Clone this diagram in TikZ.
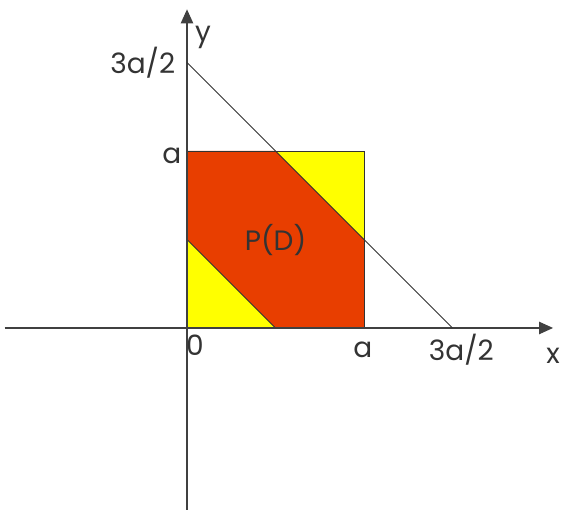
\documentclass[tikz,border=0pt]{standalone}
\usepackage{fontspec}
\setmainfont{Poppins}
\usetikzlibrary{arrows.meta}

\begin{document}
\begin{tikzpicture}[x=4cm, y=4cm,
    axis/.style={-{Triangle[length=9pt, width=8pt]}, line width=0.7pt, black!75},
    edge/.style={line width=0.5pt, black!80},
    lbl/.style={font=\fontsize{18}{21}\selectfont, text=black!80, inner sep=0pt},
    region/.style={draw=black!80, line width=0.4pt}
]
    \definecolor{pdred}{HTML}{E83E00}
    \definecolor{pdyellow}{HTML}{FFFF00}
    \useasboundingbox (-1.0565,-1.028) rectangle (2.1186,1.853);

    % Square corners and cut points
    \coordinate (o) at (0,0);
    \coordinate (sa) at (1,0);
    \coordinate (sb) at (1,1);
    \coordinate (sc) at (0,1);
    \coordinate (lx) at (0.5,0);
    \coordinate (ly) at (0,0.5);
    \coordinate (ux) at (0.5,1);
    \coordinate (uy) at (1,0.5);

    % Yellow square, red band
    \fill[pdyellow] (o) -- (sa) -- (sb) -- (sc) -- cycle;
    \fill[pdred] (lx) -- (sa) -- (uy) -- (ux) -- (sc) -- (ly) -- cycle;
    \draw[region] (o) -- (sa) -- (sb) -- (sc) -- cycle;
    \draw[edge] (ly) -- (lx);

    % Axes
    \coordinate (xl) at (-1.03,0);
    \coordinate (xr) at (2.068,0);
    \coordinate (yb) at (0,-1.03);
    \coordinate (yt) at (0,1.80);
    \draw[axis] (xl) -- (xr);
    \draw[axis] (yb) -- (yt);

    % Line x+y=3a/2
    \coordinate (p) at (0,1.5);
    \coordinate (q) at (1.5,0);
    \draw[edge] (p) -- (q);

    % Labels
    \node[lbl] (ylab) at (0.09,1.64) {y};
    \node[lbl] (xlab) at (2.068,-0.158) {x};
    \node[lbl] (tyl) at (-0.25,1.497) {3a/2};
    \node[lbl] (ayl) at (-0.085,0.97) {a};
    \node[lbl] (zero) at (0.045,-0.096) {0};
    \node[lbl] (axl) at (0.994,-0.124) {a};
    \node[lbl] (txl) at (1.55,-0.124) {3a/2};
    \node[lbl] (pd) at (0.5,0.497) {P(D)};
\end{tikzpicture}
\end{document}
